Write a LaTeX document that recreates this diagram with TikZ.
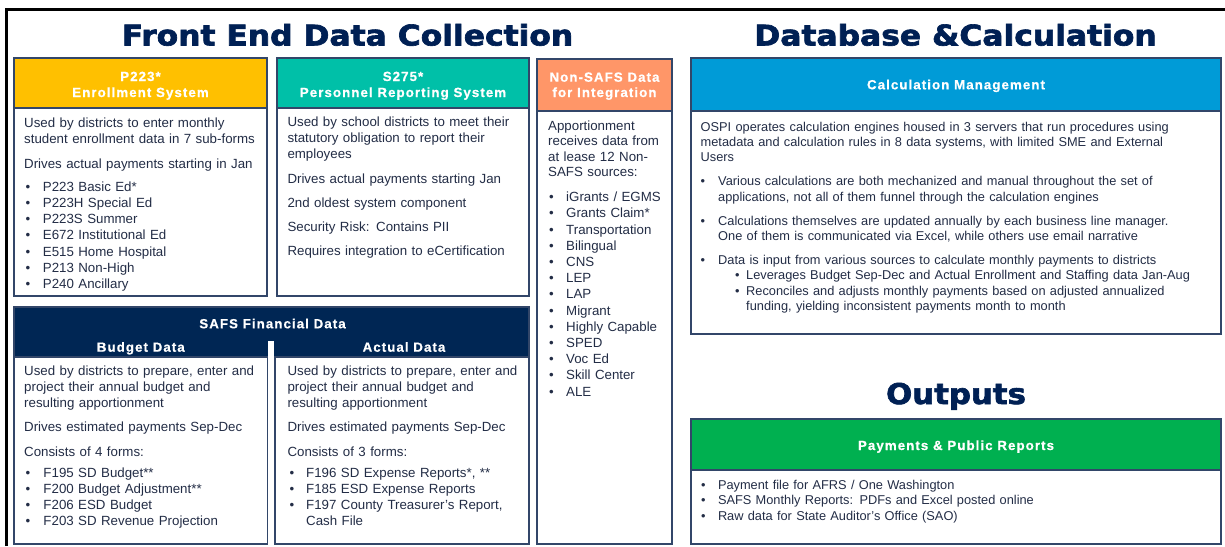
\documentclass[tikz,border=0pt]{standalone}
\usepackage{fontspec}
\usepackage{graphicx}
\setmainfont{Liberation Sans}
\newfontfamily\hdrfont[LetterSpace=8,BoldFeatures={FakeBold=0.6}]{Liberation Sans}
\newfontfamily\ttlfont[BoldFeatures={FakeBold=2.2}]{DejaVu Sans}
\definecolor{gold}{RGB}{255,192,0}
\definecolor{teal2}{RGB}{0,192,168}
\definecolor{salmon}{RGB}{255,150,104}
\definecolor{blue2}{RGB}{0,155,215}
\definecolor{green2}{RGB}{0,176,80}
\definecolor{navy}{RGB}{0,38,84}
\definecolor{titlec}{RGB}{0,32,84}
\definecolor{bord}{RGB}{50,70,105}
\definecolor{txt}{RGB}{35,45,70}
\newcommand\bA{\fontsize{13.3}{16.1}\selectfont}
\newcommand\bS{\fontsize{13.3}{16}\selectfont}
\newcommand\bN{\fontsize{13.3}{16.2}\selectfont}
\newcommand\bC{\fontsize{12.8}{15.4}\selectfont}
\newcommand\bPay{\fontsize{12.8}{15.5}\selectfont}
\newcommand\bul[2]{\makebox[#1][l]{\hspace{#2}\textbullet}}
\newcommand\ttl[1]{\scalebox{1.1}[1]{#1}}
\tikzset{
  hdrbox/.style={draw=bord, line width=1.2pt},
  bodybox/.style={draw=bord, line width=1.2pt, fill=white},
  hdr/.style={anchor=base, inner sep=0pt, text=white, font=\hdrfont\bfseries\fontsize{13.3}{15}\selectfont},
  body/.style={anchor=base west, inner sep=0pt, text=txt, align=left, text width=500pt},
  ttlnode/.style={anchor=base, inner sep=0pt, text=titlec, font=\ttlfont\bfseries\fontsize{28.5}{34}\selectfont},
}
\begin{document}
\begin{tikzpicture}[x=1pt,y=-1pt]
\useasboundingbox (0,0) rectangle (1225,546);
\fill[white] (0,0) rectangle (1225,546);
% frame
\draw[line width=3.4pt] (6.7,546) -- (6.7,9.2) -- (1225,9.2);
% titles
\node[ttlnode] (tfront) at (347.5,45.5) {\ttl{Front End Data Collection}};
\node[ttlnode] (tdb) at (955.5,45.5) {\ttl{Database \&Calculation}};
\node[ttlnode] (tout) at (956,404) {\scalebox{1.08}[1]{Outputs}};
% P223
\filldraw[hdrbox, fill=gold] (14,58) rectangle (267,108);
\filldraw[bodybox] (14,108) rectangle (267,296);
\node[hdr] (p223a) at (140.5,81) {P223*};
\node[hdr] (p223b) at (140.5,97) {Enrollment System};
\node[body, font=\bA] (p223t) at (24,127) {Used by districts to enter monthly\\
student enrollment data in 7 sub-forms\\[9pt]
Drives actual payments starting in Jan\\[7.3pt]
\bul{18.7pt}{1.5pt}P223 Basic Ed*\\
\bul{18.7pt}{1.5pt}P223H Special Ed\\
\bul{18.7pt}{1.5pt}P223S Summer\\
\bul{18.7pt}{1.5pt}E672 Institutional Ed\\
\bul{18.7pt}{1.5pt}E515 Home Hospital\\
\bul{18.7pt}{1.5pt}P213 Non-High\\
\bul{18.7pt}{1.5pt}P240 Ancillary};
% S275
\filldraw[hdrbox, fill=teal2] (277,58) rectangle (529,108);
\filldraw[bodybox] (277,108) rectangle (529,296);
\node[hdr] (s275a) at (403,81) {S275*};
\node[hdr] (s275b) at (403,97) {Personnel Reporting System};
\node[body, font=\bS] (s275t) at (287.3,126.7) {Used by school districts to meet their\\
statutory obligation to report their\\
employees\\[8.3pt]
Drives actual payments starting Jan\\[8.3pt]
2nd oldest system component\\[8.3pt]
Security Risk: Contains PII\\[8.3pt]
Requires integration to eCertification};
% Non-SAFS
\filldraw[hdrbox, fill=salmon] (537,59) rectangle (672,111);
\filldraw[bodybox] (537,111) rectangle (672,544);
\node[hdr] (nsa) at (604.5,81.7) {Non-SAFS Data};
\node[hdr] (nsb) at (604.5,97) {for Integration};
\node[body, font=\bN] (nst) at (548,130) {Apportionment\\[-0.6pt]
receives data from\\[-0.6pt]
at lease 12 Non-\\[-0.6pt]
SAFS sources:\\[8.7pt]
\bul{18pt}{0.8pt}iGrants / EGMS\\
\bul{18pt}{0.8pt}Grants Claim*\\
\bul{18pt}{0.8pt}Transportation\\
\bul{18pt}{0.8pt}Bilingual\\
\bul{18pt}{0.8pt}CNS\\
\bul{18pt}{0.8pt}LEP\\
\bul{18pt}{0.8pt}LAP\\
\bul{18pt}{0.8pt}Migrant\\
\bul{18pt}{0.8pt}Highly Capable\\
\bul{18pt}{0.8pt}SPED\\
\bul{18pt}{0.8pt}Voc Ed\\
\bul{18pt}{0.8pt}Skill Center\\
\bul{18pt}{0.8pt}ALE};
% SAFS Financial Data
\filldraw[hdrbox, fill=navy] (14,307) rectangle (529,357);
\filldraw[bodybox] (14,357) rectangle (267.5,544);
\filldraw[bodybox] (275,357) rectangle (529,544);
\fill[white] (268.2,341) rectangle (274.3,546);
\node[hdr] (safs) at (272.5,328.3) {SAFS Financial Data};
\node[hdr] (budh) at (140.8,351.7) {Budget Data};
\node[hdr] (acth) at (404,351.7) {Actual Data};
\node[body, font=\bS] (budt) at (24,375.3) {Used by districts to prepare, enter and\\
project their annual budget and\\
resulting apportionment\\[8.4pt]
Drives estimated payments Sep-Dec\\[8.3pt]
Consists of 4 forms:\\[5.7pt]
\bul{19.3pt}{1.5pt}F195 SD Budget**\\
\bul{19.3pt}{1.5pt}F200 Budget Adjustment**\\
\bul{19.3pt}{1.5pt}F206 ESD Budget\\
\bul{19.3pt}{1.5pt}F203 SD Revenue Projection};
\node[body, font=\bS] (actt) at (287.3,375.3) {Used by districts to prepare, enter and\\
project their annual budget and\\
resulting apportionment\\[8.4pt]
Drives estimated payments Sep-Dec\\[8.3pt]
Consists of 3 forms:\\[5.7pt]
\bul{18.7pt}{2pt}F196 SD Expense Reports*, **\\
\bul{18.7pt}{2pt}F185 ESD Expense Reports\\
\bul{18.7pt}{2pt}F197 County Treasurer’s Report,\\
\hspace*{18.7pt}Cash File};
% Calculation Management
\filldraw[hdrbox, fill=blue2] (691,58) rectangle (1221,111);
\filldraw[bodybox] (691,111) rectangle (1221,334);
\node[hdr] (calch) at (956,89.3) {Calculation Management};
\node[body, font=\bC] (calct) at (700.5,131) {OSPI operates calculation engines housed in 3 servers that run procedures using\\
metadata and calculation rules in 8 data systems, with limited SME and External\\
Users\\[8.5pt]
\bul{17.5pt}{0pt}Various calculations are both mechanized and manual throughout the set of\\
\hspace*{17.5pt}applications, not all of them funnel through the calculation engines\\[8.5pt]
\bul{17.5pt}{0pt}Calculations themselves are updated annually by each business line manager.\\
\hspace*{17.5pt}One of them is communicated via Excel, while others use email narrative\\[8.5pt]
\bul{17.5pt}{0pt}Data is input from various sources to calculate monthly payments to districts\\
\bul{45.5pt}{34.5pt}Leverages Budget Sep-Dec and Actual Enrollment and Staffing data Jan-Aug\\
\bul{45.5pt}{34.5pt}Reconciles and adjusts monthly payments based on adjusted annualized\\
\hspace*{45.5pt}funding, yielding inconsistent payments month to month};
% Payments
\filldraw[hdrbox, fill=green2] (691,419) rectangle (1221,470);
\filldraw[bodybox] (691,470) rectangle (1221,544);
\node[hdr] (payh) at (956,450) {Payments \& Public Reports};
\node[body, font=\bPay] (payt) at (700.5,489) {\bul{17.3pt}{0.5pt}Payment file for AFRS / One Washington\\
\bul{17.3pt}{0.5pt}SAFS Monthly Reports: PDFs and Excel posted online\\
\bul{17.3pt}{0.5pt}Raw data for State Auditor’s Office (SAO)};
\end{tikzpicture}
\end{document}
